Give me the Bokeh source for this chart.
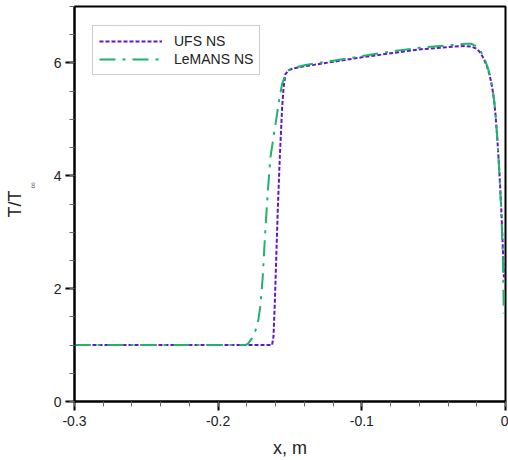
from bokeh.plotting import figure
from bokeh.models import FixedTicker, LinearAxis, Legend, LegendItem, Range1d
from bokeh.embed import file_html
from bokeh.resources import INLINE

# ---- data ----
ufs_x = [-0.3, -0.2, -0.1625, -0.1615, -0.1605, -0.1595, -0.1585, -0.1571, -0.1555,
         -0.1545, -0.1532, -0.151, -0.148, -0.14, -0.12, -0.10, -0.08, -0.06, -0.045,
         -0.035, -0.028, -0.024, -0.020, -0.0175, -0.015, -0.0128, -0.011, -0.0093,
         -0.008, -0.007, -0.0058, -0.0047, -0.0038, -0.0031, -0.0025, -0.0019,
         -0.0014, -0.0011]
ufs_t = [1.0, 1.0, 1.0, 1.15, 1.8, 2.6, 3.4, 4.33, 5.2,
         5.55, 5.80, 5.87, 5.90, 5.94, 6.02, 6.10, 6.17, 6.24, 6.27,
         6.29, 6.30, 6.29, 6.25, 6.18, 6.07, 5.93, 5.78, 5.57,
         5.35, 5.10, 4.70, 4.25, 3.85, 3.50, 3.15, 2.75,
         2.40, 2.2]

lemans_x = [-0.3, -0.2, -0.181, -0.179, -0.1765, -0.174, -0.172, -0.1706, -0.169,
            -0.1675, -0.1655, -0.1636, -0.160, -0.1575, -0.1555, -0.153, -0.151,
            -0.148, -0.14, -0.12, -0.10, -0.08, -0.06, -0.045, -0.035, -0.028,
            -0.024, -0.020, -0.0175, -0.015, -0.0128, -0.011, -0.0093, -0.008,
            -0.007, -0.0058, -0.0047, -0.0038, -0.0031, -0.0025, -0.0019, -0.0015,
            -0.0012]
lemans_t = [1.0, 1.0, 1.0, 1.03, 1.12, 1.26, 1.45, 1.70, 2.2,
            2.9, 3.7, 4.33, 4.93, 5.35, 5.63, 5.80, 5.87,
            5.91, 5.96, 6.04, 6.12, 6.20, 6.27, 6.30, 6.32, 6.34,
            6.34, 6.29, 6.22, 6.10, 5.95, 5.80, 5.58, 5.36,
            5.10, 4.70, 4.25, 3.82, 3.45, 3.05, 2.6, 2.1,
            1.56]

series_names = ["UFS NS", "LeMANS NS"]
x_ticks = [-0.3, -0.2, -0.1, 0.0]
x_tick_labels = ["-0.3", "-0.2", "-0.1", "0"]
x_minor = [round(-0.3 + 0.02 * i, 2) for i in range(16)]
y_ticks = [0, 2, 4, 6]
y_tick_labels = ["0", "2", "4", "6"]
y_minor = [0.5 * i for i in range(15)]

FONT = "Liberation Sans"
PURPLE = "#6016cc"
GREEN = "#1fb36b"

p = figure(width=508, height=460, output_backend="svg", toolbar_location=None,
           x_range=Range1d(-0.3, 0.0), y_range=Range1d(0, 7.0),
           min_border_left=74, min_border_right=3, min_border_top=6,
           min_border_bottom=59)
p.background_fill_color = "white"
p.border_fill_color = "white"
p.outline_line_color = "black"
p.outline_line_width = 2
p.xgrid.visible = False
p.ygrid.visible = False

r1 = p.line(ufs_x, ufs_t, line_color=PURPLE, line_width=2, line_dash="4 2")
r2 = p.line(lemans_x, lemans_t, line_color=GREEN, line_width=2, line_dash="16 7 3 7")

for ax in (p.xaxis[0], p.yaxis[0]):
    ax.axis_line_width = 2
    ax.axis_line_color = "black"
    ax.major_tick_line_width = 2
    ax.major_tick_line_color = "black"
    ax.minor_tick_line_width = 1
    ax.minor_tick_line_color = "#666666"
    ax.major_tick_in = 0
    ax.major_tick_out = 9
    ax.minor_tick_in = 0
    ax.minor_tick_out = 5
    ax.major_label_text_font = FONT
    ax.major_label_text_font_size = "14px"
    ax.major_label_text_color = "#222222"
    ax.axis_label_text_font = FONT
    ax.axis_label_text_font_size = "18px"
    ax.axis_label_text_font_style = "normal"
    ax.axis_label_text_color = "#222222"

p.xaxis[0].ticker = FixedTicker(ticks=x_ticks, minor_ticks=x_minor)
p.xaxis[0].major_label_overrides = dict(zip(x_ticks, x_tick_labels))
p.xaxis[0].major_label_standoff = 5
p.xaxis[0].axis_label = "x, m"
p.xaxis[0].axis_label_standoff = 9

# inner y axis: ticks, tick labels and the subscript "∞" of T/T∞
ya = p.yaxis[0]
ya.ticker = FixedTicker(ticks=y_ticks, minor_ticks=y_minor)
ya.major_label_overrides = dict(zip(y_ticks, y_tick_labels))
ya.major_label_standoff = 4
ya.major_label_orientation = "horizontal"
ya.axis_label = "\u00a0" * 15 + "∞"
ya.axis_label_text_font_size = "9px"
ya.axis_label_text_color = "#555555"
ya.axis_label_standoff = 13

# outer y axis: only carries the main part "T/T" of the label
yb = LinearAxis(ticker=FixedTicker(ticks=[]), axis_label="T/T")
yb.axis_line_color = None
yb.major_tick_line_color = None
yb.minor_tick_line_color = None
yb.major_tick_in = 0
yb.major_tick_out = 0
yb.minor_tick_in = 0
yb.minor_tick_out = 0
yb.major_label_standoff = 0
yb.axis_label_standoff = 0
yb.axis_label_text_font = FONT
yb.axis_label_text_font_size = "18px"
yb.axis_label_text_font_style = "normal"
yb.axis_label_text_color = "#222222"
p.add_layout(yb, "left")

legend = Legend(items=[LegendItem(label=series_names[0], renderers=[r1]),
                       LegendItem(label=series_names[1], renderers=[r2])],
                location=(18, 326))
legend.border_line_color = "#999999"
legend.border_line_width = 1
legend.background_fill_color = "white"
legend.background_fill_alpha = 1
legend.padding = 6
legend.spacing = 0
legend.margin = 0
legend.glyph_width = 63
legend.glyph_height = 18
legend.label_height = 18
legend.label_standoff = 12
legend.label_text_font = FONT
legend.label_text_font_size = "14px"
legend.label_text_color = "#222222"
p.add_layout(legend)

open("out.html", "w").write(file_html(p, INLINE))
